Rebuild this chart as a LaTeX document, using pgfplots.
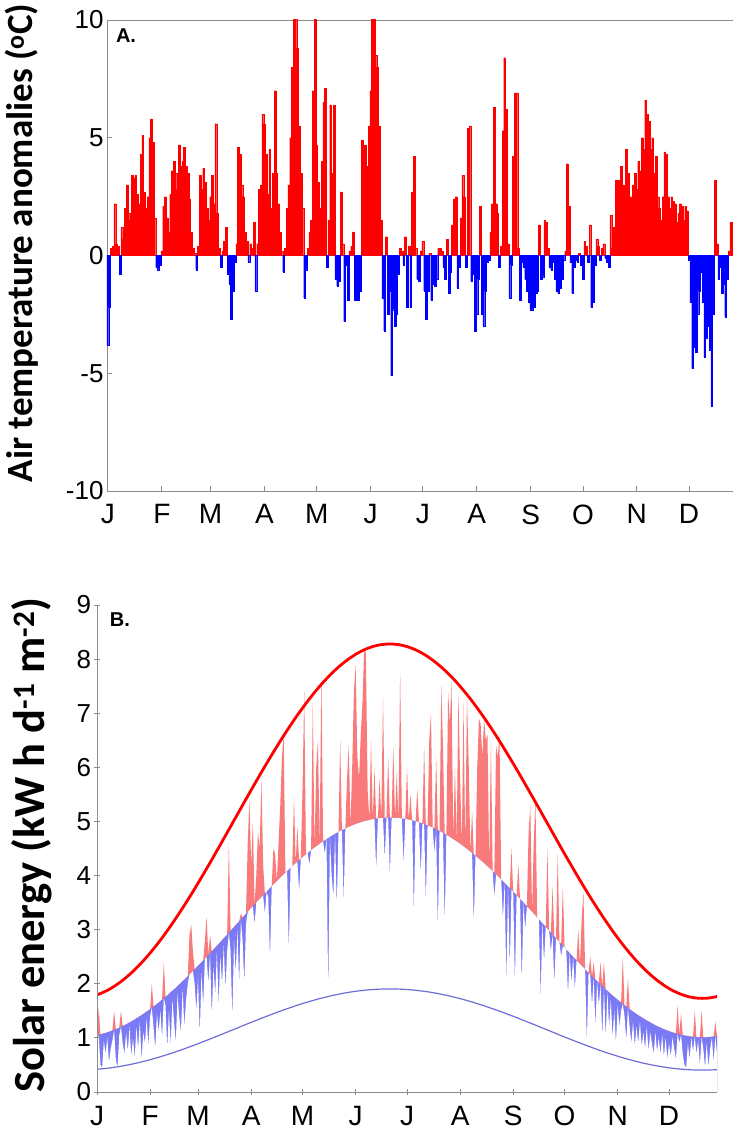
\documentclass[border=0pt]{standalone}
\usepackage{fontspec}
\setmainfont{Liberation Sans}
\newfontfamily\calibri{Carlito}
\usepackage{pgfplots}
\usepackage{pgfplotstable}
\pgfplotsset{compat=1.18}

\definecolor{redfill}{RGB}{248,122,122}
\definecolor{bluefill}{RGB}{122,122,245}
\definecolor{lowline}{RGB}{110,110,215}
\definecolor{axgray}{RGB}{140,140,140}

\pgfplotstableread[row sep=\\]{
d T\\
1 -3.8\\ 2 -2.2\\ 3 0.3\\ 4 0.4\\ 5 2.2\\ 6 0.5\\ 7 0.4\\ 8 -0.8\\ 9 1.2\\ 10 0.7\\
11 2.0\\ 12 3.0\\ 13 1.8\\ 14 1.5\\ 15 3.4\\ 16 3.3\\ 17 3.4\\ 18 2.6\\ 19 2.2\\ 20 4.3\\
21 5.1\\ 22 2.7\\ 23 2.0\\ 24 2.5\\ 25 5.0\\ 26 5.8\\ 27 4.8\\ 28 1.6\\ 29 -0.5\\ 30 -0.6\\
31 -0.4\\ 32 0.2\\ 33 2.1\\ 34 2.5\\ 35 1.6\\ 36 1.0\\ 37 2.6\\ 38 3.6\\ 39 4.0\\ 40 3.5\\
41 2.8\\ 42 4.7\\ 43 3.8\\ 44 4.0\\ 45 4.6\\ 46 3.8\\ 47 3.5\\ 48 2.4\\ 49 1.0\\ 50 0.3\\
51 0.1\\ 52 -0.6\\ 53 0.4\\ 54 3.4\\ 55 2.8\\ 56 3.7\\ 57 3.1\\ 58 2.0\\ 59 1.5\\ 60 2.5\\
61 3.4\\ 62 2.2\\ 63 5.6\\ 64 1.8\\ 65 0.3\\ 66 -0.5\\ 67 0.2\\ 68 0.6\\ 69 1.2\\ 70 -0.8\\
71 -1.2\\ 72 -2.7\\ 73 -1.5\\ 74 -0.3\\ 75 0.5\\ 76 4.6\\ 77 4.3\\ 78 3.0\\ 79 2.5\\ 80 1.0\\
81 0.6\\ 82 -0.3\\ 83 0.5\\ 84 0.3\\ 85 1.4\\ 86 -1.5\\ 87 0.5\\ 88 2.8\\ 89 3.0\\ 90 6.0\\
91 5.6\\ 92 4.3\\ 93 2.6\\ 94 4.5\\ 95 2.0\\ 96 3.5\\ 97 7.0\\ 98 3.5\\ 99 2.2\\ 100 1.0\\
101 0.2\\ 102 -0.7\\ 103 0.3\\ 104 2.0\\ 105 3.0\\ 106 5.0\\ 107 8.0\\ 108 10.5\\ 109 10.5\\ 110 8.8\\
111 5.5\\ 112 3.5\\ 113 2.0\\ 114 -1.8\\ 115 -0.6\\ 116 0.3\\ 117 1.0\\ 118 1.5\\ 119 7.0\\ 120 10.5\\
121 4.7\\ 122 3.1\\ 123 2.0\\ 124 4.0\\ 125 6.5\\ 126 7.1\\ 127 -0.5\\ 128 1.5\\ 129 6.4\\ 130 3.5\\
131 6.4\\ 132 -1.0\\ 133 -1.3\\ 134 -1.1\\ 135 2.7\\ 136 0.5\\ 137 -2.8\\ 138 -0.4\\ 139 -1.9\\ 140 0.2\\
141 0.4\\ 142 1.0\\ 143 -1.9\\ 144 -1.8\\ 145 -1.9\\ 146 -1.5\\ 147 4.9\\ 148 3.0\\ 149 4.7\\ 150 3.8\\
151 5.5\\ 152 7.0\\ 153 10.5\\ 154 10.5\\ 155 8.5\\ 156 8.0\\ 157 5.5\\ 158 1.5\\ 159 -1.8\\ 160 -3.2\\
161 0.8\\ 162 -2.5\\ 163 -1.5\\ 164 -5.1\\ 165 -2.3\\ 166 -3.0\\ 167 -2.5\\ 168 -0.8\\ 169 0.3\\ 170 0.2\\
171 -0.4\\ 172 0.8\\ 173 -2.2\\ 174 0.4\\ 175 -2.2\\ 176 2.7\\ 177 4.2\\ 178 0.3\\ 179 -1.0\\ 180 -1.1\\
181 0.2\\ 182 0.6\\ 183 -1.5\\ 184 -2.7\\ 185 -1.5\\ 186 0.1\\ 187 -1.9\\ 188 -1.2\\ 189 -1.3\\ 190 -1.0\\
191 0.3\\ 192 0.3\\ 193 0.2\\ 194 -0.5\\ 195 -1.0\\ 196 0.7\\ 197 -1.6\\ 198 -0.7\\ 199 1.3\\ 200 2.4\\
201 2.5\\ 202 -1.4\\ 203 -0.5\\ 204 1.6\\ 205 3.4\\ 206 2.5\\ 207 -0.5\\ 208 5.4\\ 209 5.5\\ 210 -1.1\\
211 -0.8\\ 212 -3.2\\ 213 -2.5\\ 214 -1.0\\ 215 2.1\\ 216 -2.5\\ 217 -3.0\\ 218 -1.5\\ 219 -0.3\\ 220 -0.2\\
221 1.0\\ 222 2.2\\ 223 6.3\\ 224 2.2\\ 225 1.8\\ 226 -0.5\\ 227 0.4\\ 228 5.3\\ 229 8.4\\ 230 6.2\\
231 0.5\\ 232 -1.8\\ 233 -0.4\\ 234 4.2\\ 235 6.9\\ 236 6.9\\ 237 0.3\\ 238 -1.9\\ 239 -0.3\\ 240 -0.5\\
241 -1.0\\ 242 -1.5\\ 243 -2.0\\ 244 -2.3\\ 245 -2.3\\ 246 -2.2\\ 247 -1.6\\ 248 -1.5\\ 249 1.3\\ 250 -1.0\\
251 -0.9\\ 252 1.5\\ 253 1.4\\ 254 0.3\\ 255 -0.5\\ 256 -0.6\\ 257 -0.3\\ 258 -1.0\\ 259 -1.5\\ 260 -1.6\\
261 -1.4\\ 262 -1.0\\ 263 -0.2\\ 264 0.2\\ 265 3.9\\ 266 2.1\\ 267 -0.3\\ 268 -1.6\\ 269 -0.5\\ 270 -0.2\\
271 -0.3\\ 272 0.1\\ 273 -0.4\\ 274 -1.0\\ 275 0.6\\ 276 0.4\\ 277 -0.3\\ 278 1.3\\ 279 -2.2\\ 280 -2.0\\
281 -0.4\\ 282 0.7\\ 283 0.4\\ 284 -0.2\\ 285 0.3\\ 286 0.5\\ 287 -0.1\\ 288 -0.3\\ 289 -0.5\\ 290 1.7\\
291 0.3\\ 292 1.2\\ 293 3.2\\ 294 2.8\\ 295 3.2\\ 296 3.8\\ 297 3.0\\ 298 2.5\\ 299 4.5\\ 300 3.5\\
301 2.5\\ 302 1.8\\ 303 3.0\\ 304 3.5\\ 305 2.8\\ 306 4.0\\ 307 3.6\\ 308 5.0\\ 309 4.5\\ 310 6.6\\
311 6.0\\ 312 5.7\\ 313 4.5\\ 314 5.0\\ 315 3.5\\ 316 4.2\\ 317 2.5\\ 318 2.0\\ 319 1.5\\ 320 2.5\\
321 4.4\\ 322 4.3\\ 323 2.5\\ 324 2.0\\ 325 2.5\\ 326 2.3\\ 327 2.2\\ 328 1.4\\ 329 1.8\\ 330 2.2\\
331 2.1\\ 332 1.5\\ 333 2.1\\ 334 1.9\\ 335 -0.2\\ 336 -2.0\\ 337 -4.8\\ 338 -3.9\\ 339 -4.1\\ 340 -2.5\\
341 -1.5\\ 342 -0.7\\ 343 -2.0\\ 344 -4.3\\ 345 -3.5\\ 346 -3.0\\ 347 -4.0\\ 348 -6.4\\ 349 -2.5\\ 350 3.2\\
351 0.5\\ 352 -1.0\\ 353 -0.5\\ 354 -1.6\\ 355 -1.2\\ 356 -2.6\\ 357 -1.0\\ 358 0.2\\ 359 1.4\\ 360 1.4\\
361 0.8\\ 362 -0.5\\ 363 0.3\\ 364 0.5\\ 365 0.3\\
}\tabA

\pgfplotstableread[row sep=\\]{
d M D\\
1 1.050 0.85\\ 2 1.057 1.57\\ 3 1.066 0.50\\ 4 1.075 0.45\\ 5 1.083 0.95\\ 6 1.092 0.70\\ 7 1.101 1.00\\ 8 1.113 0.55\\ 9 1.125 0.80\\ 10 1.136 0.95\\
11 1.148 1.50\\ 12 1.160 0.60\\ 13 1.175 0.45\\ 14 1.189 1.05\\ 15 1.204 1.50\\ 16 1.218 0.90\\ 17 1.233 0.70\\ 18 1.250 1.10\\ 19 1.268 0.75\\ 20 1.285 1.20\\
21 1.303 0.65\\ 22 1.320 1.00\\ 23 1.340 0.62\\ 24 1.360 1.20\\ 25 1.379 0.80\\ 26 1.399 1.30\\ 27 1.419 0.58\\ 28 1.441 1.10\\ 29 1.463 0.90\\ 30 1.486 1.35\\
31 1.508 0.85\\ 32 1.530 1.40\\ 33 1.554 2.00\\ 34 1.579 1.20\\ 35 1.603 0.80\\ 36 1.628 1.45\\ 37 1.652 1.10\\ 38 1.678 1.50\\ 39 1.705 1.00\\ 40 1.731 2.40\\
41 1.758 1.60\\ 42 1.784 0.80\\ 43 1.812 1.50\\ 44 1.841 0.85\\ 45 1.869 1.70\\ 46 1.898 1.30\\ 47 1.926 0.90\\ 48 1.956 1.80\\ 49 1.986 1.40\\ 50 2.016 1.10\\
51 2.046 1.90\\ 52 2.076 1.20\\ 53 2.107 1.70\\ 54 2.139 2.00\\ 55 2.170 2.90\\ 56 2.202 3.10\\ 57 2.233 2.60\\ 58 2.266 2.00\\ 59 2.298 1.50\\ 60 2.331 2.10\\
61 2.363 1.05\\ 62 2.396 2.20\\ 63 2.430 1.60\\ 64 2.463 2.80\\ 65 2.497 3.24\\ 66 2.530 2.00\\ 67 2.564 2.90\\ 68 2.598 1.40\\ 69 2.632 2.30\\ 70 2.667 1.80\\
71 2.701 2.60\\ 72 2.735 1.60\\ 73 2.770 2.50\\ 74 2.805 2.00\\ 75 2.839 2.70\\ 76 2.874 1.90\\ 77 2.909 2.60\\ 78 2.944 4.60\\ 79 2.979 2.60\\ 80 3.014 1.35\\
81 3.049 2.80\\ 82 3.084 2.20\\ 83 3.119 3.00\\ 84 3.154 2.00\\ 85 3.188 3.30\\ 86 3.223 2.80\\ 87 3.258 2.00\\ 88 3.293 3.10\\ 89 3.327 4.60\\ 90 3.362 5.40\\
91 3.396 4.20\\ 92 3.431 5.00\\ 93 3.465 3.10\\ 94 3.499 4.00\\ 95 3.532 4.80\\ 96 3.566 4.50\\ 97 3.600 5.80\\ 98 3.633 4.20\\ 99 3.666 3.30\\ 100 3.700 3.700\\
101 3.733 3.60\\ 102 3.766 2.45\\ 103 3.798 3.798\\ 104 3.830 4.50\\ 105 3.863 4.40\\ 106 3.895 3.895\\ 107 3.927 4.60\\ 108 3.958 5.30\\ 109 3.988 6.20\\ 110 4.019 6.60\\
111 4.049 4.049\\ 112 4.080 4.080\\ 113 4.109 2.60\\ 114 4.138 4.138\\ 115 4.168 4.168\\ 116 4.197 5.46\\ 117 4.226 4.226\\ 118 4.253 4.90\\ 119 4.281 3.70\\ 120 4.308 4.308\\
121 4.336 5.60\\ 122 4.363 7.40\\ 123 4.389 4.389\\ 124 4.414 4.414\\ 125 4.440 4.20\\ 126 4.465 4.465\\ 127 4.491 7.20\\ 128 4.514 4.514\\ 129 4.538 6.00\\ 130 4.561 6.50\\
131 4.585 4.585\\ 132 4.608 7.80\\ 133 4.629 4.629\\ 134 4.650 4.40\\ 135 4.671 4.671\\ 136 4.692 1.75\\ 137 4.713 4.713\\ 138 4.731 4.00\\ 139 4.750 3.60\\ 140 4.768 4.768\\
141 4.787 3.40\\ 142 4.805 4.805\\ 143 4.821 6.50\\ 144 4.837 4.837\\ 145 4.853 3.50\\ 146 4.869 4.869\\ 147 4.885 5.80\\ 148 4.898 6.40\\ 149 4.911 4.911\\ 150 4.925 6.00\\
151 4.938 7.40\\ 152 4.951 7.90\\ 153 4.961 6.20\\ 154 4.972 5.80\\ 155 4.982 6.60\\ 156 4.993 7.20\\ 157 5.003 8.20\\ 158 5.010 8.10\\ 159 5.018 5.60\\ 160 5.025 5.025\\
161 5.033 6.50\\ 162 5.040 5.040\\ 163 5.045 6.00\\ 164 5.049 4.10\\ 165 5.054 5.054\\ 166 5.058 5.80\\ 167 5.063 5.063\\ 168 5.064 7.30\\ 169 5.066 4.30\\ 170 5.067 5.067\\
171 5.069 6.20\\ 172 5.070 4.00\\ 173 5.069 5.069\\ 174 5.067 6.40\\ 175 5.066 5.066\\ 176 5.064 5.90\\ 177 5.063 5.063\\ 178 5.058 7.80\\ 179 5.054 5.054\\ 180 5.049 4.20\\
181 5.045 5.045\\ 182 5.040 6.00\\ 183 5.033 5.033\\ 184 5.025 5.50\\ 185 5.018 5.018\\ 186 5.010 3.30\\ 187 5.003 5.003\\ 188 4.993 5.60\\ 189 4.982 4.982\\ 190 4.972 4.00\\
191 4.961 4.961\\ 192 4.951 6.40\\ 193 4.938 3.50\\ 194 4.925 4.925\\ 195 4.911 6.50\\ 196 4.898 7.00\\ 197 4.885 4.885\\ 198 4.869 4.40\\ 199 4.853 6.20\\ 200 4.837 3.00\\
201 4.821 4.821\\ 202 4.805 7.50\\ 203 4.787 6.40\\ 204 4.768 3.10\\ 205 4.750 4.750\\ 206 4.731 7.40\\ 207 4.713 6.80\\ 208 4.692 7.60\\ 209 4.671 4.671\\ 210 4.650 6.00\\
211 4.629 4.629\\ 212 4.608 7.40\\ 213 4.585 5.80\\ 214 4.561 4.561\\ 215 4.538 7.20\\ 216 4.514 4.514\\ 217 4.491 7.30\\ 218 4.465 6.10\\ 219 4.440 4.440\\ 220 4.414 5.20\\
221 4.389 3.10\\ 222 4.363 4.363\\ 223 4.336 6.00\\ 224 4.308 6.90\\ 225 4.281 6.80\\ 226 4.253 6.20\\ 227 4.226 6.90\\ 228 4.197 6.50\\ 229 4.168 6.60\\ 230 4.138 4.138\\
231 4.109 6.50\\ 232 4.080 4.080\\ 233 4.049 3.60\\ 234 4.019 6.40\\ 235 3.988 6.20\\ 236 3.958 6.60\\ 237 3.927 3.927\\ 238 3.895 3.20\\ 239 3.863 3.863\\ 240 3.830 2.00\\
241 3.798 3.798\\ 242 3.766 2.30\\ 243 3.733 4.50\\ 244 3.700 3.700\\ 245 3.666 2.00\\ 246 3.633 3.633\\ 247 3.600 4.20\\ 248 3.566 3.566\\ 249 3.532 2.00\\ 250 3.499 3.499\\
251 3.465 3.00\\ 252 3.431 3.431\\ 253 3.396 4.80\\ 254 3.362 5.30\\ 255 3.327 3.327\\ 256 3.293 4.60\\ 257 3.258 5.40\\ 258 3.223 3.223\\ 259 3.188 3.188\\ 260 3.154 1.70\\
261 3.119 3.119\\ 262 3.084 2.40\\ 263 3.049 3.049\\ 264 3.014 4.50\\ 265 2.979 2.979\\ 266 2.944 2.60\\ 267 2.909 3.80\\ 268 2.874 2.00\\ 269 2.839 2.839\\ 270 2.805 4.40\\
271 2.770 2.770\\ 272 2.735 2.50\\ 273 2.701 3.80\\ 274 2.667 2.667\\ 275 2.632 2.632\\ 276 2.598 1.80\\ 277 2.564 2.564\\ 278 2.530 2.00\\ 279 2.497 2.497\\ 280 2.463 1.90\\
281 2.430 2.430\\ 282 2.396 3.00\\ 283 2.363 2.363\\ 284 2.331 3.20\\ 285 2.298 3.70\\ 286 2.266 2.266\\ 287 2.233 0.90\\ 288 2.202 2.202\\ 289 2.170 2.50\\ 290 2.139 1.60\\
291 2.107 2.40\\ 292 2.076 1.20\\ 293 2.046 2.046\\ 294 2.016 1.60\\ 295 1.986 2.40\\ 296 1.956 1.00\\ 297 1.926 2.40\\ 298 1.898 1.00\\ 299 1.869 1.85\\ 300 1.841 1.20\\
301 1.812 1.70\\ 302 1.784 1.00\\ 303 1.758 1.50\\ 304 1.731 0.90\\ 305 1.705 1.60\\ 306 1.678 1.20\\ 307 1.652 1.50\\ 308 1.628 2.50\\ 309 1.603 1.40\\ 310 1.579 0.95\\
311 1.554 2.10\\ 312 1.530 1.20\\ 313 1.508 0.90\\ 314 1.486 1.30\\ 315 1.463 0.85\\ 316 1.441 1.20\\ 317 1.419 0.90\\ 318 1.399 1.30\\ 319 1.379 0.85\\ 320 1.360 1.10\\
321 1.340 0.80\\ 322 1.320 1.20\\ 323 1.303 0.75\\ 324 1.285 1.10\\ 325 1.268 0.90\\ 326 1.250 0.70\\ 327 1.233 1.10\\ 328 1.218 0.75\\ 329 1.204 1.00\\ 330 1.189 0.70\\
331 1.175 1.05\\ 332 1.160 0.65\\ 333 1.148 1.00\\ 334 1.136 0.60\\ 335 1.125 0.90\\ 336 1.113 0.65\\ 337 1.101 1.00\\ 338 1.092 0.80\\ 339 1.083 0.60\\ 340 1.075 1.60\\
341 1.066 0.90\\ 342 1.057 1.45\\ 343 1.051 0.70\\ 344 1.045 0.50\\ 345 1.039 0.45\\ 346 1.033 0.90\\ 347 1.027 0.60\\ 348 1.024 1.00\\ 349 1.021 0.75\\ 350 1.018 1.50\\
351 1.015 0.70\\ 352 1.012 0.95\\ 353 1.011 0.50\\ 354 1.010 1.50\\ 355 1.010 0.80\\ 356 1.011 0.45\\ 357 1.012 0.90\\ 358 1.015 0.45\\ 359 1.018 0.80\\ 360 1.021 1.00\\
361 1.024 0.55\\ 362 1.027 1.30\\ 363 1.032 0.70\\ 364 1.038 0.90\\ 365 1.043 0.85\\
}\tabB

\pgfplotstableread[row sep=\\]{
d C L\\
1 1.794 0.420\\ 7 1.877 0.439\\ 12 1.973 0.461\\ 17 2.090 0.488\\ 22 2.229 0.519\\
27 2.389 0.556\\ 32 2.568 0.597\\ 37 2.765 0.642\\ 42 2.979 0.691\\ 47 3.208 0.743\\
52 3.450 0.799\\ 57 3.703 0.857\\ 62 3.966 0.917\\ 67 4.237 0.979\\ 72 4.513 1.042\\
77 4.794 1.107\\ 82 5.075 1.171\\ 87 5.357 1.236\\ 92 5.635 1.299\\ 97 5.909 1.362\\
102 6.176 1.423\\ 107 6.435 1.483\\ 112 6.683 1.539\\ 117 6.918 1.593\\ 122 7.139 1.644\\
127 7.345 1.691\\ 132 7.534 1.734\\ 137 7.703 1.773\\ 142 7.853 1.807\\ 147 7.981 1.837\\
152 8.088 1.861\\ 157 8.172 1.880\\ 162 8.232 1.894\\ 167 8.268 1.902\\ 172 8.280 1.905\\
177 8.268 1.902\\ 182 8.232 1.894\\ 187 8.172 1.880\\ 192 8.088 1.861\\ 197 7.981 1.837\\
202 7.853 1.807\\ 207 7.703 1.773\\ 212 7.534 1.734\\ 217 7.345 1.691\\ 222 7.139 1.644\\
227 6.918 1.593\\ 232 6.683 1.539\\ 237 6.435 1.483\\ 242 6.176 1.423\\ 247 5.909 1.362\\
252 5.635 1.299\\ 257 5.357 1.236\\ 262 5.075 1.171\\ 267 4.794 1.107\\ 272 4.513 1.042\\
277 4.237 0.979\\ 282 3.966 0.917\\ 287 3.703 0.857\\ 292 3.450 0.799\\ 297 3.208 0.743\\
302 2.979 0.691\\ 307 2.765 0.642\\ 312 2.568 0.597\\ 317 2.389 0.556\\ 322 2.229 0.519\\
327 2.090 0.488\\ 332 1.973 0.461\\ 337 1.877 0.439\\ 342 1.806 0.422\\ 347 1.757 0.411\\
352 1.733 0.406\\ 357 1.733 0.406\\ 362 1.757 0.411\\ 365 1.783 0.417\\
}\tabC

\pgfplotsset{
  mystyle/.style={
    scale only axis,
    anchor=south west,
    tick align=inside,
    tick pos=left,
    major tick length=5pt,
    axis line style={axgray, line width=0.8pt},
    tick style={axgray, line width=0.8pt},
    /pgf/number format/assume math mode=true,
    yticklabel style={font=\fontsize{26}{26}\selectfont},
    xticklabel style={font=\fontsize{28}{28}\selectfont, yshift=-10pt},
    xtick={1,32,60,91,121,152,182,213,244,274,305,335},
    xticklabels={J,F,M,A,M,J,J,A,S,O,N,D},
  }
}

\begin{document}
\begin{tikzpicture}
\useasboundingbox (0pt,0pt) rectangle (733pt,1133pt);

% Panel A
\begin{axis}[mystyle,
  at={(107pt,642pt)},
  width=640pt, height=471pt,
  xmin=0.5, xmax=368.3, ymin=-10, ymax=10,
  ytick={-10,-5,0,5,10},
  ylabel={\calibri\bfseries Air temperature anomalies (\textsuperscript{o}C)},
  ylabel style={at={(axis description cs:-0.1328,0.5265)}, anchor=center, font=\fontsize{37}{37}\selectfont},
]
\addplot[ybar, bar width=1, bar shift=0pt, fill=red, draw=red, line width=0.2pt,
  restrict y to domain=0:20] table[x=d, y=T]{\tabA};
\addplot[ybar, bar width=1, bar shift=0pt, fill=blue, draw=blue, line width=0.2pt,
  restrict y to domain=-20:0] table[x=d, y=T]{\tabA};
\node[font=\bfseries\fontsize{20}{20}\selectfont] at (axis description cs:0.0297,0.966) {A.};
\end{axis}

% Panel B
\begin{axis}[mystyle,
  at={(97pt,41pt)},
  width=620pt, height=487pt,
  xmin=1, xmax=363, ymin=0, ymax=9,
  axis lines=left,
  axis on top,
  axis line style={-, axgray, line width=0.8pt},
  ytick={0,1,2,3,4,5,6,7,8,9},
  xticklabel style={inner sep=0.5pt, yshift=-1pt},
  ylabel={\calibri\bfseries Solar energy (kW h d\textsuperscript{-1} m\textsuperscript{-2})},
  ylabel style={at={(axis description cs:-0.106,0.507)}, anchor=center, font=\fontsize{44.5}{44.5}\selectfont},
]
% red: area under max(D,M); blue: area under M; white: area under min(D,M)
\addplot[fill=redfill, draw=none] table[x=d, y expr={max(\thisrow{D},\thisrow{M})}]{\tabB} \closedcycle;
\addplot[fill=bluefill, draw=none] table[x=d, y=M]{\tabB} \closedcycle;
\addplot[fill=white, draw=none] table[x=d, y expr={min(\thisrow{D},\thisrow{M})}]{\tabB} \closedcycle;
\addplot[lowline, line width=1.2pt, smooth] table[x=d, y=L]{\tabC};
\addplot[red, line width=2.8pt, smooth] table[x=d, y=C]{\tabC};
\node[font=\bfseries\fontsize{20}{20}\selectfont] at (axis description cs:0.037,0.969) {B.};
\end{axis}
\end{tikzpicture}
\end{document}
